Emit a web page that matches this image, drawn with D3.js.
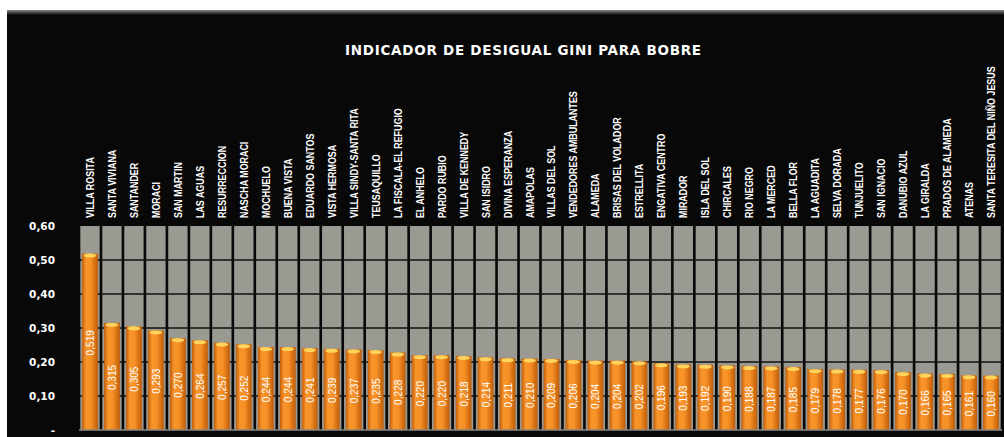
<!DOCTYPE html>
<html>
<head>
<meta charset="utf-8">
<script src="https://cdn.jsdelivr.net/npm/d3@7"></script>
<style>
  body { margin: 0; background: #fff; }
  svg { display: block; }
</style>
</head>
<body>
<div id="chart"></div>
<script>
// Gini index by neighbourhood
const title = "INDICADOR DE DESIGUAL GINI PARA BOBRE";

const barrios = [
  "VILLA ROSITA", "SANTA VIVIANA", "SANTANDER", "MORACI", "SAN MARTIN", "LAS AGUAS",
  "RESURRECCION", "NASCHA MORACI", "MOCHUELO", "BUENA VISTA", "EDUARDO SANTOS",
  "VISTA HERMOSA", "VILLA SINDY-SANTA RITA", "TEUSAQUILLO", "LA FISCALA-EL REFUGIO",
  "EL ANHELO", "PARDO RUBIO", "VILLA DE KENNEDY", "SAN ISIDRO", "DIVINA ESPERANZA",
  "AMAPOLAS", "VILLAS DEL SOL", "VENDEDORES AMBULANTES", "ALAMEDA", "BRISAS DEL VOLADOR",
  "ESTRELLITA", "ENGATIVA CENTRO", "MIRADOR", "ISLA DEL SOL", "CHIRCALES", "RIO NEGRO",
  "LA MERCED", "BELLA FLOR", "LA AGUADITA", "SELVA DORADA", "TUNJUELITO", "SAN IGNACIO",
  "DANUBIO AZUL", "LA GIRALDA", "PRADOS DE ALAMEDA", "ATENAS", "SANTA TERESITA DEL NIÑO JESUS"
];

const gini = [
  0.519, 0.315, 0.305, 0.293, 0.270, 0.264,
  0.257, 0.252, 0.244, 0.244, 0.241,
  0.239, 0.237, 0.235, 0.228,
  0.220, 0.220, 0.218, 0.214, 0.211,
  0.210, 0.209, 0.206, 0.204, 0.204,
  0.202, 0.196, 0.193, 0.192, 0.190, 0.188,
  0.187, 0.185, 0.179, 0.178, 0.177, 0.176,
  0.170, 0.166, 0.165, 0.161, 0.160
];

const yTicks = [0, 0.1, 0.2, 0.3, 0.4, 0.5, 0.6];

const data = barrios.map((b, i) => ({ name: b, value: gini[i] }));

const W = 1004, H = 437;
const plot = { left: 79, right: 1002, top: 226, bottom: 430 };

const svg = d3.select("#chart").append("svg")
  .attr("width", W).attr("height", H);

const defs = svg.append("defs");
const grad = defs.append("linearGradient").attr("id", "barGrad")
  .attr("x1", "0%").attr("x2", "100%").attr("y1", "0%").attr("y2", "0%");
grad.append("stop").attr("offset", "0%").attr("stop-color", "#c25e0a");
grad.append("stop").attr("offset", "25%").attr("stop-color", "#f8952a");
grad.append("stop").attr("offset", "55%").attr("stop-color", "#f79026");
grad.append("stop").attr("offset", "100%").attr("stop-color", "#c05c08");

const frameGrad = defs.append("linearGradient").attr("id", "frameGrad")
  .attr("x1", "0%").attr("x2", "0%").attr("y1", "0%").attr("y2", "100%");
frameGrad.append("stop").attr("offset", "0%").attr("stop-color", "#8a8a8a");
frameGrad.append("stop").attr("offset", "100%").attr("stop-color", "#080808");

// chart background
svg.append("rect").attr("x", 7).attr("y", 10).attr("width", W - 7).attr("height", H - 10)
  .attr("fill", "#080808");
svg.append("rect").attr("x", 7).attr("y", 10).attr("width", W - 7).attr("height", 5)
  .attr("fill", "url(#frameGrad)");

const x = d3.scaleBand()
  .domain(barrios)
  .range([plot.left, plot.right])
  .paddingInner(0.12)
  .paddingOuter(0.06);

const y = d3.scaleLinear().domain([0, 0.6]).range([plot.bottom, plot.top]);

// gray cells behind bars
svg.append("g").selectAll("rect")
  .data(data).join("rect")
  .attr("x", d => x(d.name))
  .attr("y", y(0.6))
  .attr("width", x.bandwidth())
  .attr("height", y(0) - y(0.6))
  .attr("fill", "#9a9992");

// horizontal gridlines
svg.append("g").selectAll("line")
  .data(yTicks.filter(t => t > 0 && t < 0.6)).join("line")
  .attr("x1", plot.left).attr("x2", plot.right)
  .attr("y1", d => y(d)).attr("y2", d => y(d))
  .attr("stroke", "#111").attr("stroke-width", 1.5);

// y axis labels
const fmtTick = d => d === 0 ? "-" : d3.format(".2f")(d).replace(".", ",");
svg.append("g").attr("transform", `translate(${plot.left - 21},0)`)
  .call(d3.axisLeft(y).tickValues(yTicks).tickFormat(fmtTick).tickSize(0))
  .call(g => g.select(".domain").remove())
  .call(g => g.selectAll("text")
    .attr("fill", "#fff")
    .style("font-family", "'DejaVu Sans', sans-serif")
    .style("font-weight", "bold")
    .style("font-size", "10.5px"));

// bars
const inset = 1.8;
const bars = svg.append("g");
bars.selectAll("rect")
  .data(data).join("rect")
  .attr("x", d => x(d.name) + inset)
  .attr("y", d => y(d.value))
  .attr("width", x.bandwidth() - inset * 2)
  .attr("height", d => y(0) - y(d.value))
  .attr("fill", "url(#barGrad)");

// top highlight of each bar
bars.selectAll("ellipse")
  .data(data).join("ellipse")
  .attr("cx", d => x(d.name) + x.bandwidth() / 2)
  .attr("cy", d => y(d.value) + 2)
  .attr("rx", x.bandwidth() / 2 - inset - 1.5)
  .attr("ry", 2)
  .attr("fill", "#ffd45a");

// baseline
svg.append("line")
  .attr("x1", plot.left).attr("x2", plot.right)
  .attr("y1", y(0)).attr("y2", y(0))
  .attr("stroke", "#8a8a84").attr("stroke-width", 1.5);

// value labels (centered in bar, rotated)
const fmtVal = d => d3.format(".3f")(d).replace(".", ",");
svg.append("g").selectAll("text")
  .data(data).join("text")
  .attr("transform", d => `translate(${x(d.name) + x.bandwidth() / 2 + 4},${(y(d.value) + y(0)) / 2 + 1}) rotate(-90) scale(0.92,1)`)
  .attr("text-anchor", "middle")
  .attr("fill", "#fff")
  .style("font-family", "'Liberation Sans Narrow', 'Arial Narrow', sans-serif")
  .style("font-size", "11px")
  .text(d => fmtVal(d.value));

// category labels above cells
svg.append("g").selectAll("text")
  .data(data).join("text")
  .attr("transform", d => `translate(${x(d.name) + x.bandwidth() / 2 + 4},${plot.top - 8}) rotate(-90) scale(0.81,1)`)
  .attr("text-anchor", "start")
  .attr("fill", "#fff")
  .style("font-family", "'Liberation Sans Narrow', 'Arial Narrow', sans-serif")
  .style("font-weight", "bold")
  .style("font-size", "11px")
  .text(d => d.name);

// title
svg.append("text")
  .attr("x", 523)
  .attr("y", 55)
  .attr("text-anchor", "middle")
  .attr("textLength", 356)
  .attr("lengthAdjust", "spacing")
  .attr("fill", "#fff")
  .style("font-family", "'DejaVu Sans', sans-serif")
  .style("font-weight", "bold")
  .style("font-size", "13.5px")
  .text(title);
</script>
</body>
</html>
